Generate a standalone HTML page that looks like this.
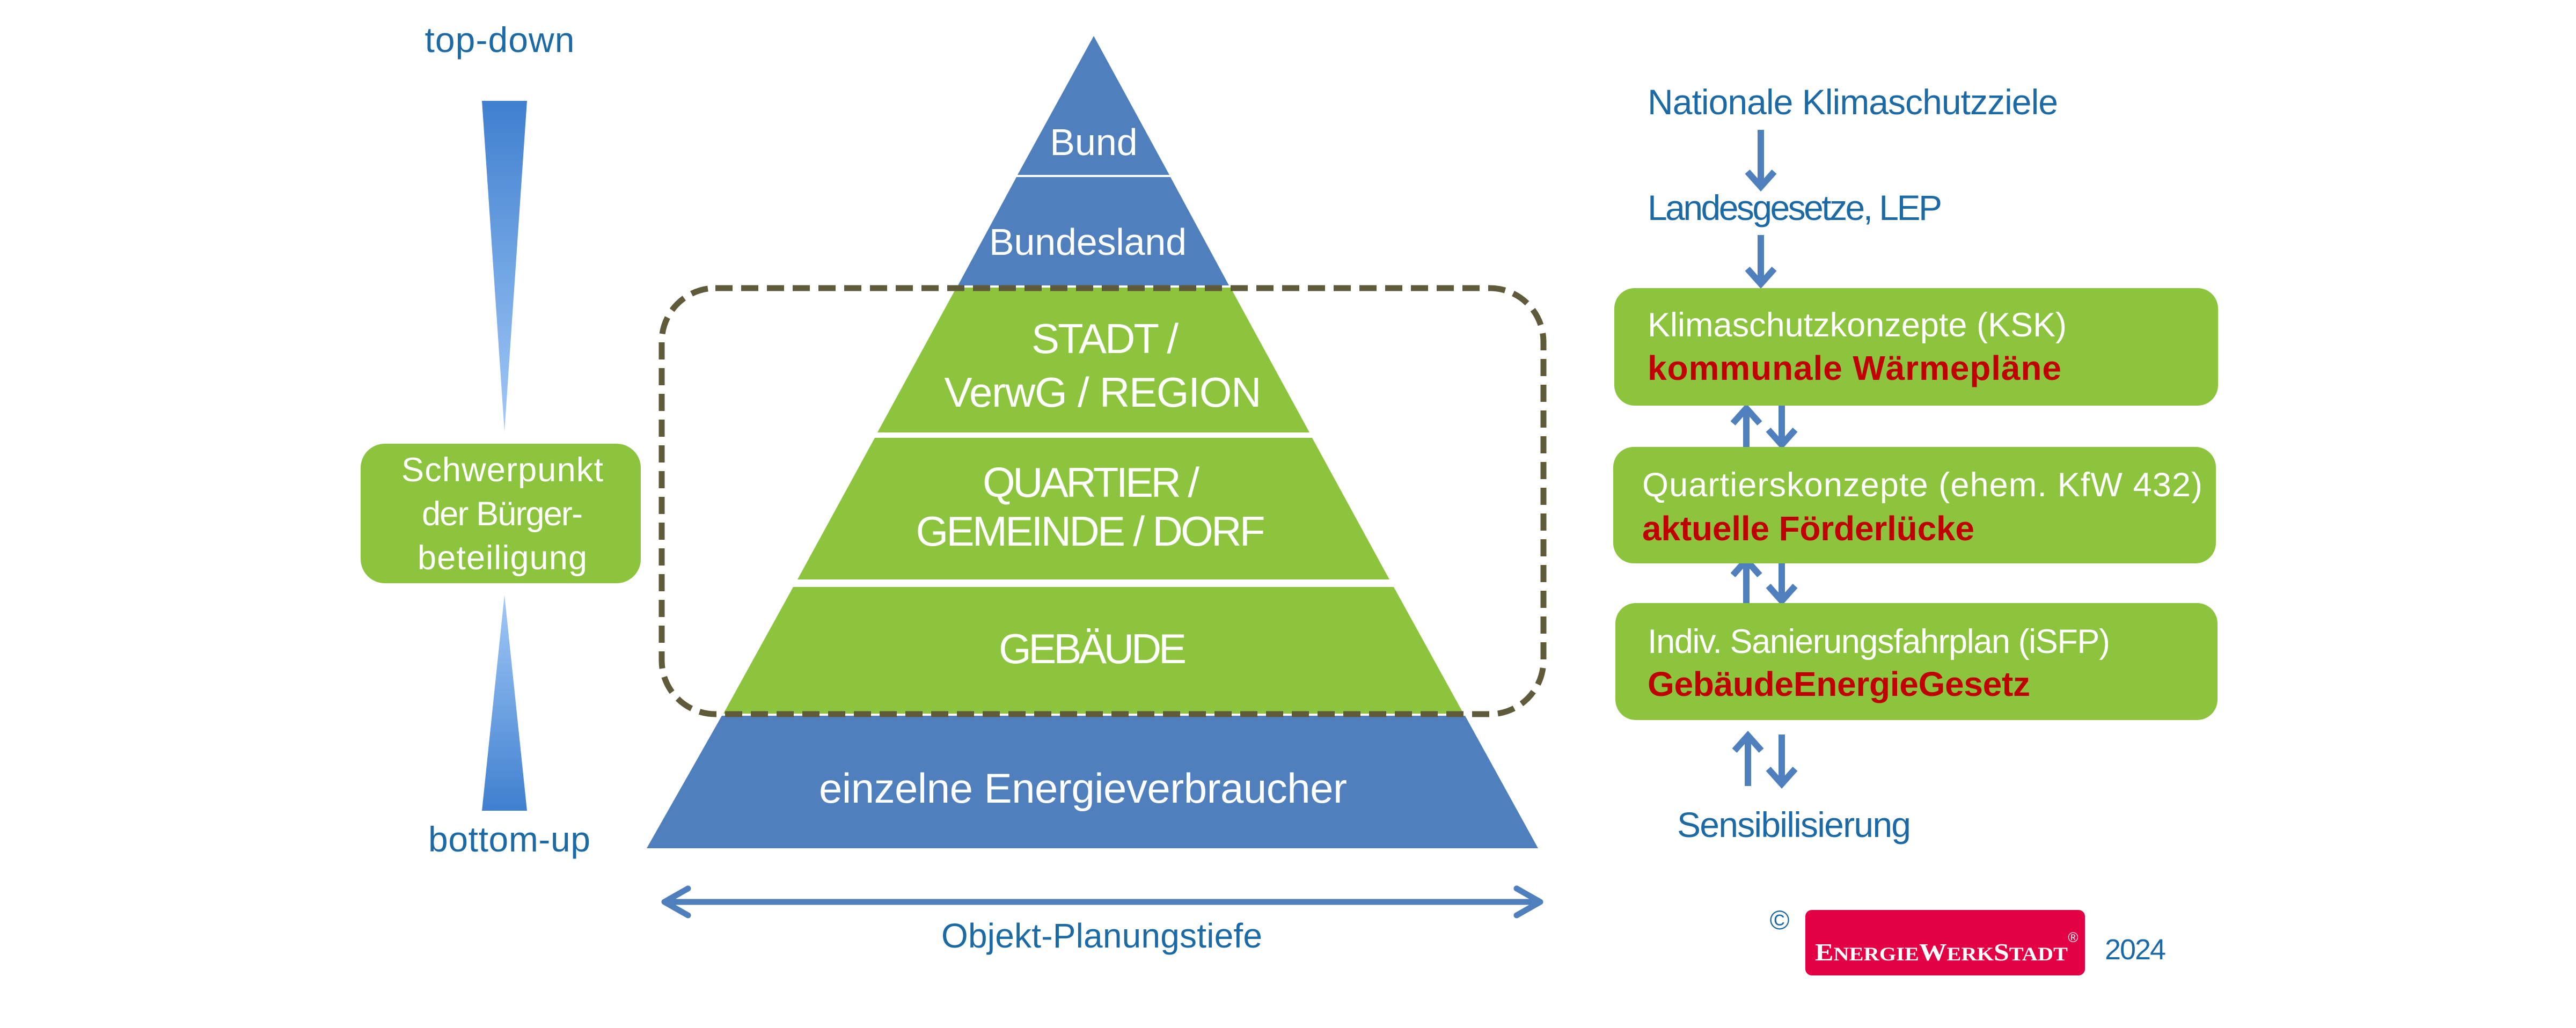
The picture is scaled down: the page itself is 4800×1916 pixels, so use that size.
<!DOCTYPE html>
<html><head><meta charset="utf-8"><style>html,body{margin:0;padding:0;background:#fff}svg{display:block}</style></head>
<body>
<svg width="4800" height="1916" viewBox="0 0 4800 1916" xmlns="http://www.w3.org/2000/svg" font-family="Liberation Sans, sans-serif">
<defs>
<linearGradient id="wd" x1="0" y1="0" x2="0" y2="1"><stop offset="0" stop-color="#3f7fcf"/><stop offset="1" stop-color="#a2c9f7"/></linearGradient>
<linearGradient id="wu" x1="0" y1="1" x2="0" y2="0"><stop offset="0" stop-color="#3f7fcf"/><stop offset="1" stop-color="#a2c9f7"/></linearGradient>
</defs>
<!-- left column -->
<text x="931" y="97" font-size="66" fill="#1b6aa5" text-anchor="middle" textLength="279">top-down</text>
<polygon points="898,188 982,188 940,804" fill="url(#wd)"/>
<rect x="672" y="827" width="522" height="260" rx="45" fill="#8cc43e"/>
<g fill="#fff" font-size="63" text-anchor="middle">
<text x="936" y="897" textLength="376">Schwerpunkt</text>
<text x="936" y="979" textLength="300">der Bürger-</text>
<text x="936" y="1061" textLength="316">beteiligung</text>
</g>
<polygon points="940,1109 982,1511 898,1511" fill="url(#wu)"/>
<text x="949" y="1587" font-size="66" fill="#1b6aa5" text-anchor="middle" textLength="302">bottom-up</text>

<!-- pyramid -->
<g>
<polygon points="2038,67 2179,326 1896,326" fill="#4f80bd"/>
<polygon points="1894,330 2181,330 2290,532 1785,532" fill="#4f80bd"/>
<polygon points="1782,536 2293,536 2440,806 1635,806" fill="#8cc43e"/>
<polygon points="1630,816 2445,816 2589,1080 1486,1080" fill="#8cc43e"/>
<polygon points="1478,1094 2597,1094 2727,1330 1348,1330" fill="#8cc43e"/>
<polygon points="1345,1334 2730,1334 2866,1581 1205,1581" fill="#4f80bd"/>
</g>
<g fill="#fff" text-anchor="middle">
<text x="2038" y="289" font-size="70">Bund</text>
<text x="2027" y="475" font-size="70" textLength="368">Bundesland</text>
<text x="2059" y="658" font-size="78" textLength="274">STADT /</text>
<text x="2055" y="758" font-size="78" textLength="591">VerwG / REGION</text>
<text x="2033" y="926" font-size="78" textLength="404">QUARTIER /</text>
<text x="2032" y="1017" font-size="78" textLength="651">GEMEINDE / DORF</text>
<text x="2036" y="1236" font-size="78" textLength="350">GEBÄUDE</text>
<text x="2018" y="1496" font-size="78" textLength="984">einzelne Energieverbraucher</text>
</g>
<rect x="1233" y="537" width="1643" height="794" rx="100" fill="none" stroke="#5e5a3a" stroke-width="11" stroke-dasharray="32 16"/>

<!-- bottom double arrow -->
<g stroke="#4f80bd" stroke-width="11" fill="none" stroke-linecap="round" stroke-linejoin="round">
<line x1="1240" y1="1681" x2="2868" y2="1681"/>
<polyline points="1282,1656 1238,1681 1282,1706"/>
<polyline points="2826,1656 2870,1681 2826,1706"/>
</g>
<text x="2053" y="1766" font-size="64" fill="#1b6aa5" text-anchor="middle" textLength="598">Objekt-Planungstiefe</text>

<!-- right column -->
<g fill="#1b6aa5" font-size="66">
<text x="3070" y="213" textLength="765">Nationale Klimaschutzziele</text>
<text x="3070" y="410" textLength="549">Landesgesetze, LEP</text>
<text x="3125" y="1560" textLength="436">Sensibilisierung</text>
</g>
<g stroke="#4f80bd" stroke-width="12" fill="none" stroke-linejoin="miter">
<line x1="3281" y1="242" x2="3281" y2="346"/><polyline points="3256,320 3281,348 3306,320"/>
<line x1="3281" y1="438" x2="3281" y2="527"/><polyline points="3256,501 3281,529 3306,501"/>
<line x1="3254" y1="767" x2="3254" y2="833"/><polyline points="3229,789 3254,761 3279,789"/>
<line x1="3320" y1="752" x2="3320" y2="827"/><polyline points="3295,801 3320,829 3345,801"/>
<line x1="3254" y1="1050" x2="3254" y2="1124"/><polyline points="3229,1072 3254,1044 3279,1072"/>
<line x1="3320" y1="1042" x2="3320" y2="1118"/><polyline points="3295,1092 3320,1120 3345,1092"/>
<line x1="3257" y1="1377" x2="3257" y2="1465"/><polyline points="3232,1399 3257,1371 3282,1399"/>
<line x1="3320" y1="1369" x2="3320" y2="1459"/><polyline points="3295,1433 3320,1461 3345,1433"/>
</g>
<rect x="3008" y="537" width="1125" height="219" rx="38" fill="#8cc43e"/>
<rect x="3006" y="833" width="1123" height="217" rx="38" fill="#8cc43e"/>
<rect x="3010" y="1124" width="1122" height="218" rx="38" fill="#8cc43e"/>
<g font-size="63" fill="#fff">
<text x="3070" y="627" textLength="781">Klimaschutzkonzepte (KSK)</text>
<text x="3060" y="925" textLength="1044">Quartierskonzepte (ehem. KfW 432)</text>
<text x="3070" y="1217" textLength="862">Indiv. Sanierungsfahrplan (iSFP)</text>
</g>
<g font-size="64" fill="#c00000" font-weight="bold">
<text x="3070" y="708" textLength="771">kommunale Wärmepläne</text>
<text x="3060" y="1007" textLength="619">aktuelle Förderlücke</text>
<text x="3070" y="1297" textLength="713">GebäudeEnergieGesetz</text>
</g>

<!-- logo -->
<text x="3316" y="1732" font-size="50" fill="#1b6aa5" text-anchor="middle">©</text>
<rect x="3364" y="1696" width="521" height="122" rx="12" fill="#e30045"/>
<text x="3382" y="1790" font-family="Liberation Serif, serif" font-weight="bold" font-size="46" fill="#fff" textLength="471" lengthAdjust="spacingAndGlyphs">E<tspan font-size="36">NERGIE</tspan>W<tspan font-size="36">ERK</tspan>S<tspan font-size="36">TADT</tspan></text>
<text x="3863" y="1756" font-size="26" fill="#fff" text-anchor="middle">®</text>
<text x="3922" y="1788" font-size="54" fill="#1b6aa5" textLength="114">2024</text>
</svg>
</body></html>
